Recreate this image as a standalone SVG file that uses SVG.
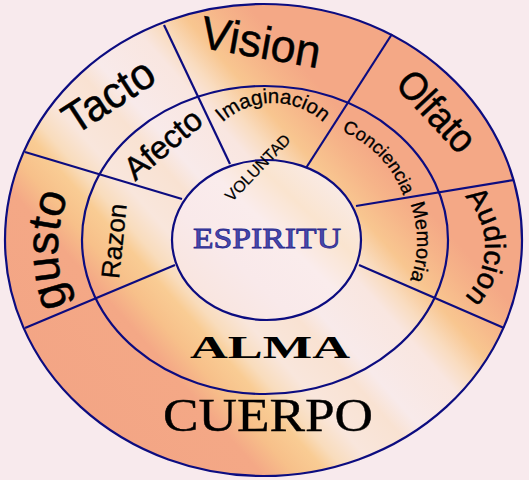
<svg xmlns="http://www.w3.org/2000/svg" width="529" height="480" viewBox="0 0 529 480">
<style>
.ln{stroke:#0c0c80;stroke-width:2.2;fill:none}
.sans{font-family:"Liberation Sans",Arial,sans-serif;fill:#000;stroke:#000;stroke-width:0.5}
.serif{font-family:"Liberation Serif","Times New Roman",serif;fill:#000}
</style>
<defs>
<linearGradient id="g1" gradientUnits="userSpaceOnUse" x1="67.5" y1="405.5" x2="442.5" y2="74.5">
<stop offset="0" stop-color="#f3a585"/>
<stop offset="0.20" stop-color="#f4a886"/>
<stop offset="0.25" stop-color="#f7c08a"/>
<stop offset="0.30" stop-color="#f9cc94"/>
<stop offset="0.33" stop-color="#f9dcbc"/>
<stop offset="0.38" stop-color="#f9e6dc"/>
<stop offset="0.46" stop-color="#f9e2d2"/>
<stop offset="0.50" stop-color="#f8eaea"/>
<stop offset="0.60" stop-color="#f9e6e0"/>
<stop offset="0.64" stop-color="#f9dcc0"/>
<stop offset="0.69" stop-color="#f8c690"/>
<stop offset="0.75" stop-color="#f6b489"/>
<stop offset="0.80" stop-color="#f4a886"/>
<stop offset="1" stop-color="#f4a886"/>
</linearGradient>
<linearGradient id="g2" gradientUnits="userSpaceOnUse" x1="180" y1="330" x2="350" y2="150">
<stop offset="0" stop-color="#f9e2d6"/>
<stop offset="0.35" stop-color="#f9e9ea"/>
<stop offset="0.55" stop-color="#faecec"/>
<stop offset="0.7" stop-color="#fae4cf"/>
<stop offset="0.85" stop-color="#f9eae4"/>
<stop offset="1" stop-color="#f9e8e8"/>
</linearGradient>
<path id="pImag" d="M198,178 A75,75 0 0 1 348,178"/>
<path id="pConc" d="M273.8,126.2 A110,110 0 0 1 405.6,263.7"/>
<path id="pMem" d="M361.5,145.9 A111,111 0 0 1 361.5,338.1"/>
<path id="pAud" d="M413,175 A72,72 0 0 1 413,319"/>
<path id="pGus" d="M133,380 A150,150 0 0 1 133,120"/>
</defs>
<rect width="529" height="480" fill="#f8eaed"/>
<g id="cuerpo">
<ellipse cx="263.5" cy="240" rx="258.5" ry="236" class="ln" style="fill:url(#g1)"/>
</g>
<g id="alma">
<ellipse cx="265" cy="240" rx="183" ry="154" class="ln"/>
</g>
<g id="connectors">
<line class="ln" x1="164" y1="25" x2="230" y2="164"/>
<line class="ln" x1="25" y1="152" x2="182" y2="199"/>
<line class="ln" x1="392" y1="34" x2="306" y2="168"/>
<line class="ln" x1="514" y1="180" x2="356" y2="206"/>
<line class="ln" x1="504" y1="328" x2="359" y2="265"/>
<line class="ln" x1="25" y1="328" x2="175" y2="265"/>
</g>
<g id="espiritu">
<ellipse cx="266.5" cy="240" rx="94.5" ry="80" class="ln" style="fill:url(#g2)"/>
<text class="serif" x="267" y="248" font-size="30" textLength="148" lengthAdjust="spacingAndGlyphs" text-anchor="middle" style="fill:#4848ac;stroke:#2a2a8e;stroke-width:0.8">ESPIRITU</text>
</g>
<g id="tacto"><text class="sans" font-size="44" textLength="100" lengthAdjust="spacingAndGlyphs" text-anchor="middle" transform="translate(108,95) rotate(-33)" y="16">Tacto</text></g>
<g id="vision"><text class="sans" font-size="46" textLength="121" lengthAdjust="spacingAndGlyphs" text-anchor="middle" transform="translate(261,42) rotate(10)" y="16">Vision</text></g>
<g id="olfato"><text class="sans" font-size="40" textLength="96" lengthAdjust="spacingAndGlyphs" text-anchor="middle" transform="translate(437,111) rotate(47)" y="14">Olfato</text></g>
<g id="audicion"><text class="sans" font-size="29"><textPath href="#pAud" startOffset="50%" text-anchor="middle">Audicion</textPath></text></g>
<g id="gusto"><text class="sans" font-size="46"><textPath href="#pGus" startOffset="50%" text-anchor="middle">gusto</textPath></text></g>
<g id="afecto"><text class="sans" font-size="32" text-anchor="middle" transform="translate(163,144) rotate(-40)" y="11">Afecto</text></g>
<g id="imaginacion"><text class="sans" font-size="20.5" style="stroke-width:0.3"><textPath href="#pImag" startOffset="50%" text-anchor="middle">Imaginacion</textPath></text></g>
<g id="conciencia"><text class="sans" font-size="18.5" style="stroke-width:0.3"><textPath href="#pConc" startOffset="50%" text-anchor="middle">Conciencia</textPath></text></g>
<g id="memoria"><text class="sans" font-size="20" style="stroke-width:0.3"><textPath href="#pMem" startOffset="50%" text-anchor="middle">Memoria</textPath></text></g>
<g id="razon"><text class="sans" font-size="26" style="stroke-width:0.3" text-anchor="middle" transform="translate(114,241) rotate(-84)" y="9">Razon</text></g>
<g id="voluntad"><text class="sans" font-size="16" style="stroke-width:0.2" text-anchor="middle" transform="translate(258,168) rotate(-46)" y="5">VOLUNTAD</text></g>
<g id="alma-label"><text class="serif" x="270" y="358" font-size="32" font-weight="bold" textLength="160" lengthAdjust="spacingAndGlyphs" text-anchor="middle">ALMA</text></g>
<g id="cuerpo-label"><text class="serif" x="268" y="431" font-size="46" textLength="210" lengthAdjust="spacingAndGlyphs" text-anchor="middle" style="stroke:#000;stroke-width:0.4">CUERPO</text></g>
</svg>
